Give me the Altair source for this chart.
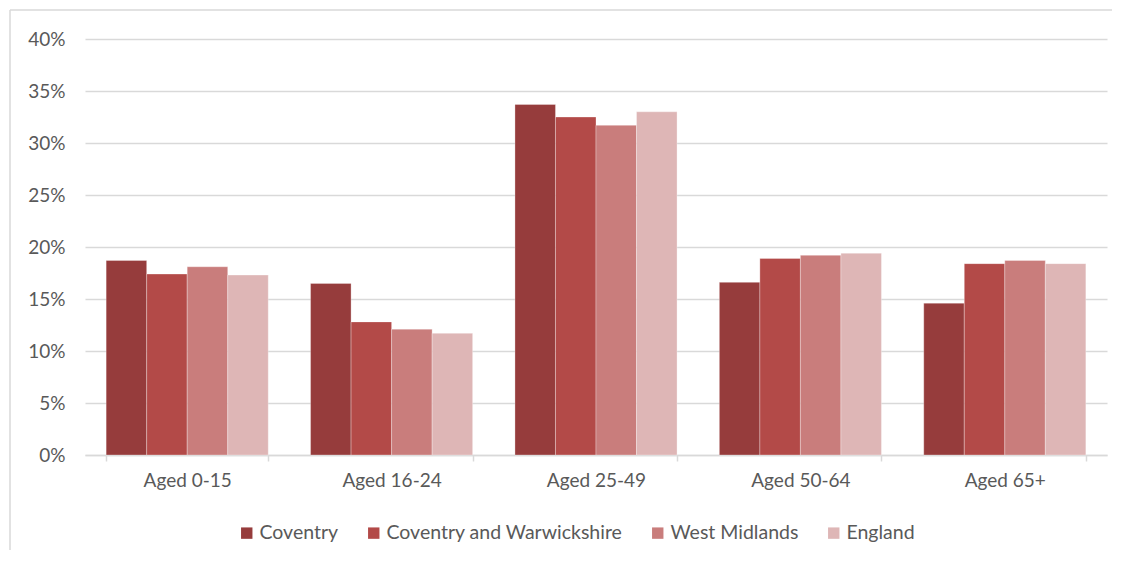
import altair as alt
import pandas as pd

categories = ["Aged 0-15", "Aged 16-24", "Aged 25-49", "Aged 50-64", "Aged 65+"]
series = ["Coventry", "Coventry and Warwickshire", "West Midlands", "England"]
coventry = [18.7, 16.5, 33.7, 16.6, 14.6]
cov_warks = [17.4, 12.8, 32.5, 18.9, 18.4]
west_midlands = [18.1, 12.1, 31.7, 19.2, 18.7]
england = [17.3, 11.7, 33.0, 19.4, 18.4]
colors = ["#963C3C", "#B34A48", "#C97D7C", "#DEB6B6"]
y_ticks = [0, 0.05, 0.10, 0.15, 0.20, 0.25, 0.30, 0.35, 0.40]

rows = []
for s, vals in zip(series, [coventry, cov_warks, west_midlands, england]):
    for c, v in zip(categories, vals):
        rows.append({"age": c, "area": s, "share": v / 100})
df = pd.DataFrame(rows)

FONT = "Lato"
TXT = "#595959"
GRID = "#D9D9D9"
W, H = 1022, 416

bars = alt.Chart(df).mark_bar(stroke="white", strokeWidth=0.6, strokeOpacity=0.5).encode(
    x=alt.X("age:N", sort=categories, title=None,
            scale=alt.Scale(paddingInner=0.207, paddingOuter=0.1035),
            axis=alt.Axis(tickBand="extent", labelAngle=0, labelFont=FONT, labelFontSize=19,
                          labelColor=TXT, domainColor=GRID, domainWidth=1.5, tickColor=GRID,
                          tickWidth=1.5, tickSize=6, labelPadding=10, grid=False)),
    xOffset=alt.XOffset("area:N", sort=series, scale=alt.Scale(paddingInner=0, paddingOuter=0)),
    y=alt.Y("share:Q", title=None,
            scale=alt.Scale(domain=[0, 0.4], nice=False),
            axis=alt.Axis(values=y_ticks, format=".0%", labelFont=FONT, labelFontSize=19,
                          labelColor=TXT, domain=False, ticks=False, labelPadding=20,
                          gridColor=GRID, gridWidth=1.5)),
    color=alt.Color("area:N", sort=series, scale=alt.Scale(domain=series, range=colors),
                    legend=alt.Legend(orient="none", direction="horizontal", legendX=152, legendY=484,
                                      title=None, symbolType="square", symbolSize=130,
                                      symbolStrokeWidth=0, labelFont=FONT, labelFontSize=19.5,
                                      labelColor=TXT, labelOffset=3, columnPadding=25,
                                      labelLimit=0)),
)

frame_left = alt.Chart().mark_rule(color=GRID, strokeWidth=1.5).encode(
    x=alt.value(-75), y=alt.value(-29), y2=alt.value(H + 160))
frame_top = alt.Chart().mark_rule(color=GRID, strokeWidth=1.5).encode(
    x=alt.value(-75), x2=alt.value(W + 100), y=alt.value(-29))

chart = alt.layer(frame_left, frame_top, bars).properties(
    width=W, height=H,
    autosize=alt.AutoSizeParams(type="none"),
    padding={"left": 77, "top": 31, "right": 5, "bottom": 95},
    background="white",
).configure_view(stroke=None)

chart.save("out.html", embed_options={"renderer": "svg", "actions": False})
